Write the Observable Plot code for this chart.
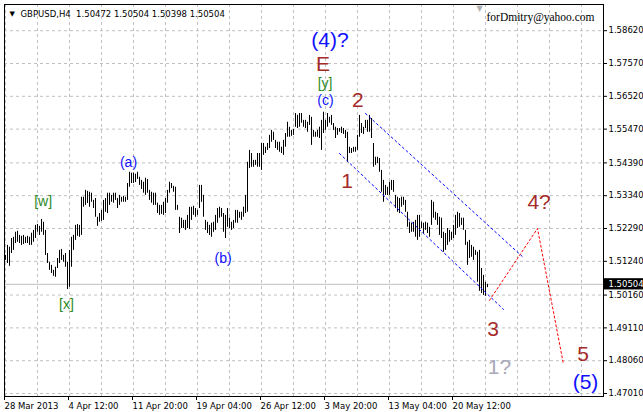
<!DOCTYPE html>
<html><head><meta charset="utf-8">
<script src="https://cdn.jsdelivr.net/npm/d3@7"></script>
<script src="https://cdn.jsdelivr.net/npm/@observablehq/plot@0.6"></script>
<style>body{margin:0;background:#fff}</style>
</head><body><div id="chart"></div>
<script>
const symbol = "GBPUSD", timeframe = "H4";
const lastOHLC = [1.50472, 1.50504, 1.50398, 1.50504];
const watermark = "forDmitry@yahoo.com";

// H4 bar highs / lows, bar 0 = 28 Mar 2013
const highs = [
1.5143,1.5175,1.5169,1.5197,1.5201,1.5217,1.5220,1.5207,1.5204,1.5207,
1.5201,1.5204,1.5201,1.5214,1.5223,1.5239,1.5242,1.5236,1.5258,1.5249,
1.5223,1.5149,1.5121,1.5111,1.5095,1.5105,1.5133,1.5159,1.5162,1.5143,
1.5149,1.5121,1.5159,1.5201,1.5207,1.5239,1.5242,1.5239,1.5329,1.5329,
1.5351,1.5348,1.5345,1.5342,1.5319,1.5325,1.5265,1.5277,1.5287,1.5319,
1.5325,1.5342,1.5342,1.5335,1.5342,1.5342,1.5325,1.5335,1.5329,1.5332,
1.5329,1.5373,1.5409,1.5406,1.5406,1.5403,1.5409,1.5393,1.5383,1.5377,
1.5390,1.5386,1.5351,1.5345,1.5342,1.5342,1.5310,1.5303,1.5303,1.5313,
1.5325,1.5351,1.5377,1.5373,1.5364,1.5361,1.5303,1.5265,1.5262,1.5255,
1.5255,1.5271,1.5297,1.5297,1.5300,1.5293,1.5287,1.5367,1.5367,1.5335,
1.5255,1.5249,1.5239,1.5246,1.5249,1.5271,1.5293,1.5297,1.5293,1.5277,
1.5271,1.5293,1.5262,1.5249,1.5255,1.5287,1.5287,1.5281,1.5281,1.5297,
1.5335,1.5441,1.5479,1.5469,1.5447,1.5447,1.5469,1.5469,1.5501,1.5501,
1.5489,1.5501,1.5527,1.5543,1.5537,1.5511,1.5505,1.5505,1.5489,1.5511,
1.5533,1.5569,1.5553,1.5543,1.5546,1.5597,1.5591,1.5597,1.5597,1.5575,
1.5575,1.5569,1.5591,1.5585,1.5543,1.5537,1.5543,1.5553,1.5575,1.5601,
1.5575,1.5597,1.5585,1.5591,1.5565,1.5553,1.5549,1.5549,1.5553,1.5549,
1.5543,1.5537,1.5489,1.5485,1.5489,1.5489,1.5527,1.5591,1.5565,1.5553,
1.5575,1.5575,1.5591,1.5581,1.5501,1.5457,1.5457,1.5453,1.5415,1.5383,
1.5367,1.5361,1.5377,1.5383,1.5383,1.5335,1.5329,1.5325,1.5329,1.5329,
1.5319,1.5281,1.5249,1.5246,1.5249,1.5255,1.5271,1.5271,1.5249,1.5246,
1.5249,1.5246,1.5233,1.5319,1.5313,1.5281,1.5277,1.5265,1.5262,1.5217,
1.5213,1.5229,1.5223,1.5217,1.5239,1.5271,1.5281,1.5277,1.5262,1.5262,
1.5223,1.5185,1.5191,1.5175,1.5169,1.5159,1.5153,1.5159,1.5101,1.5079,
1.5057,1.50504];
const lows = [
1.5127,1.5117,1.5108,1.5149,1.5159,1.5181,1.5185,1.5181,1.5175,1.5178,
1.5181,1.5181,1.5175,1.5175,1.5185,1.5197,1.5217,1.5207,1.5217,1.5207,
1.5143,1.5117,1.5095,1.5085,1.5076,1.5073,1.5101,1.5117,1.5127,1.5121,
1.5105,1.5034,1.5041,1.5105,1.5159,1.5191,1.5204,1.5201,1.5207,1.5297,
1.5303,1.5309,1.5297,1.5313,1.5293,1.5265,1.5236,1.5249,1.5252,1.5255,
1.5281,1.5277,1.5303,1.5313,1.5310,1.5319,1.5293,1.5303,1.5313,1.5313,
1.5313,1.5319,1.5361,1.5373,1.5373,1.5376,1.5386,1.5367,1.5354,1.5342,
1.5335,1.5342,1.5319,1.5310,1.5303,1.5303,1.5277,1.5271,1.5274,1.5271,
1.5277,1.5310,1.5342,1.5357,1.5345,1.5287,1.5287,1.5213,1.5229,1.5229,
1.5223,1.5229,1.5226,1.5255,1.5271,1.5265,1.5271,1.5293,1.5313,1.5265,
1.5223,1.5213,1.5207,1.5201,1.5217,1.5223,1.5246,1.5262,1.5265,1.5217,
1.5197,1.5233,1.5229,1.5223,1.5229,1.5246,1.5246,1.5262,1.5255,1.5265,
1.5277,1.5281,1.5421,1.5425,1.5425,1.5431,1.5425,1.5425,1.5415,1.5463,
1.5469,1.5479,1.5485,1.5505,1.5511,1.5485,1.5479,1.5473,1.5469,1.5463,
1.5489,1.5521,1.5521,1.5524,1.5527,1.5553,1.5549,1.5553,1.5566,1.5553,
1.5549,1.5537,1.5559,1.5495,1.5521,1.5521,1.5521,1.5517,1.5479,1.5533,
1.5543,1.5553,1.5566,1.5559,1.5543,1.5517,1.5527,1.5537,1.5533,1.5530,
1.5517,1.5441,1.5469,1.5469,1.5473,1.5473,1.5479,1.5521,1.5533,1.5530,
1.5549,1.5537,1.5537,1.5517,1.5425,1.5431,1.5437,1.5409,1.5345,1.5313,
1.5335,1.5335,1.5335,1.5351,1.5345,1.5293,1.5281,1.5277,1.5297,1.5303,
1.5281,1.5233,1.5213,1.5217,1.5217,1.5201,1.5191,1.5201,1.5229,1.5213,
1.5223,1.5213,1.5201,1.5239,1.5262,1.5255,1.5239,1.5207,1.5197,1.5153,
1.5159,1.5175,1.5185,1.5191,1.5197,1.5207,1.5229,1.5233,1.5239,1.5223,
1.5175,1.5111,1.5133,1.5137,1.5127,1.5143,1.5057,1.5028,1.5021,1.5015,
1.5012,1.50398];

const yTicks = [1.4701, 1.4806, 1.4911, 1.5016, 1.5124, 1.5229, 1.5334, 1.5439, 1.5547, 1.5652, 1.5757, 1.5862];
const xTickBars = [0, 32, 64, 96, 128, 160, 192, 224];
const xTickLabels = ["28 Mar 2013", "4 Apr 12:00", "11 Apr 20:00", "19 Apr 04:00", "26 Apr 12:00", "3 May 20:00", "13 May 04:00", "20 May 12:00"];
const xGridBars = [0,16,32,48,64,80,96,112,128,144,160,176,192,208,224,240,256,272,288];

const channelUpper = [{bar: 180, price: 1.5597}, {bar: 259, price: 1.5136}];
const channelLower = [{bar: 167, price: 1.5469}, {bar: 249, price: 1.4970}];
const projection = [{bar: 242, price: 1.4999}, {bar: 266, price: 1.5229}, {bar: 279, price: 1.4794}];

const bigLabels = [
  {text: "(4)?", bar: 162.2, price: 1.5831, color: "#1010ff"},
  {text: "E", bar: 158.8, price: 1.5755, color: "#a52a2a"},
  {text: "2", bar: 176.2, price: 1.5640, color: "#a52a2a"},
  {text: "1", bar: 170.8, price: 1.5381, color: "#a52a2a"},
  {text: "4?", bar: 266.8, price: 1.5314, color: "#a52a2a"},
  {text: "3", bar: 243.8, price: 1.4907, color: "#a52a2a"},
  {text: "1?", bar: 247.0, price: 1.4786, color: "#a8a8b8"},
  {text: "5", bar: 288.8, price: 1.4827, color: "#a52a2a"},
  {text: "(5)", bar: 290.0, price: 1.4738, color: "#1010ff"}
];
const smallLabels = [
  {text: "[y]", bar: 159.8, price: 1.5694, color: "#2a8a1e"},
  {text: "(c)", bar: 160.0, price: 1.5640, color: "#1010ff"},
  {text: "(a)", bar: 61.5, price: 1.5440, color: "#1010ff"},
  {text: "[w]", bar: 18.8, price: 1.5315, color: "#2a8a1e"},
  {text: "[x]", bar: 30.5, price: 1.4987, color: "#2a8a1e"},
  {text: "(b)", bar: 108.8, price: 1.5134, color: "#1010ff"}
];

const bars = highs.map((h, i) => ({i, high: h, low: lows[i]}));
const lastClose = lastOHLC[3];
const titleText = `${symbol},${timeframe}\u00a0\u00a0${lastOHLC.map(v => v.toFixed(5)).join(" ")}`;
const axisFont = "DejaVu Sans";
const labelFont = "Liberation Sans";

const chart = Plot.plot({
  width: 643, height: 412,
  marginLeft: 4, marginRight: 40, marginTop: 4, marginBottom: 16,
  style: {fontFamily: axisFont, background: "#fff", overflow: "visible"},
  x: {type: "linear", domain: [0, 299], range: [5, 603], axis: null},
  y: {type: "linear", domain: [1.4701, 1.58626], range: [393, 30], axis: null},
  color: {type: "identity"},
  marks: [
    Plot.gridX(xGridBars, {stroke: "#c0c0c0", strokeOpacity: 1, strokeDasharray: "3,3"}),
    Plot.gridY(yTicks, {stroke: "#c0c0c0", strokeOpacity: 1, strokeDasharray: "3,3"}),
    Plot.ruleY([lastClose], {stroke: "#c0c0c0"}),
    Plot.ruleX(bars, {x: "i", y1: "low", y2: "high", stroke: "#000", strokeWidth: 1}),
    Plot.line(channelUpper, {x: "bar", y: "price", stroke: "#0000ff", strokeWidth: 1, strokeDasharray: "2,3"}),
    Plot.line(channelLower, {x: "bar", y: "price", stroke: "#0000ff", strokeWidth: 1, strokeDasharray: "2,3"}),
    Plot.line(projection, {x: "bar", y: "price", stroke: "#ff0000", strokeWidth: 1, strokeDasharray: "2,2.5"}),
    Plot.text(bigLabels, {x: "bar", y: "price", text: "text", fill: "color", fontSize: 21, fontFamily: labelFont}),
    Plot.text(smallLabels, {x: "bar", y: "price", text: "text", fill: "color", fontSize: 14, fontFamily: labelFont}),
    Plot.frame({stroke: "#000"}),
    Plot.axisY(yTicks, {anchor: "right", tickSize: 3, tickPadding: 2, tickFormat: d => d.toFixed(5), fontSize: 8.5, fill: "#000"}),
    Plot.axisX(xTickBars, {anchor: "bottom", tickSize: 4, tickPadding: 2, tickFormat: d => xTickLabels[xTickBars.indexOf(d)], textAnchor: "start", dx: -1, fontSize: 8.5, fill: "#000"}),
    Plot.rect([lastClose], {x1: () => 299.5, x2: () => 320, y1: d => d - 0.0018, y2: d => d + 0.0018, fill: "#000", clip: false}),
    Plot.text([lastClose], {y: d => d, text: d => d.toFixed(5), frameAnchor: "right", dx: 5, textAnchor: "start", fill: "#fff", fontSize: 8.5}),
    Plot.text([titleText], {frameAnchor: "top-left", dx: 16, dy: 6, textAnchor: "start", lineAnchor: "top", fontSize: 8.5, fill: "#000"}),
    Plot.text(["\u25BC"], {frameAnchor: "top-left", dx: 5, dy: 7, textAnchor: "start", lineAnchor: "top", fontSize: 7, fill: "#000"}),
    Plot.text([237], {x: d => d, frameAnchor: "top", text: () => "\u25BC", lineAnchor: "top", dy: 1, fontSize: 8, fill: "#b0b0b0"}),
    Plot.text([watermark], {frameAnchor: "top-right", dx: -9, dy: 8, textAnchor: "end", lineAnchor: "top", fontSize: 11.5, fontFamily: "Liberation Serif", fill: "#000"})
  ]
});
document.getElementById("chart").appendChild(chart);
</script>
</body></html>
